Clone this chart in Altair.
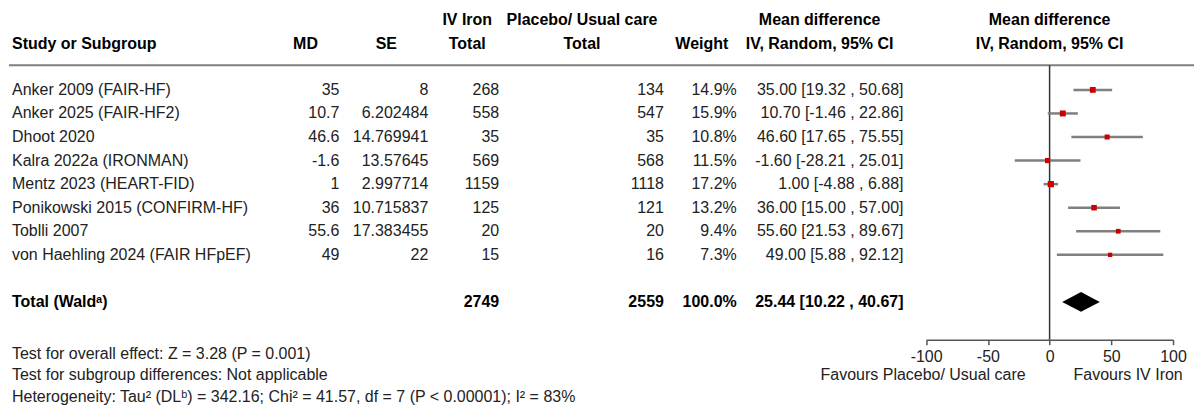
import altair as alt
import pandas as pd

# ------------------------------------------------------------------ data
studies = ["Anker 2009 (FAIR-HF)", "Anker 2025 (FAIR-HF2)", "Dhoot 2020",
           "Kalra 2022a (IRONMAN)", "Mentz 2023 (HEART-FID)",
           "Ponikowski 2015 (CONFIRM-HF)", "Toblli 2007",
           "von Haehling 2024 (FAIR HFpEF)"]
md = [35, 10.7, 46.6, -1.6, 1, 36, 55.6, 49]
se = [8, 6.202484, 14.769941, 13.57645, 2.997714, 10.715837, 17.383455, 22]
n_iron = [268, 558, 35, 569, 1159, 125, 20, 15]
n_ctrl = [134, 547, 35, 568, 1118, 121, 20, 16]
weight = [14.9, 15.9, 10.8, 11.5, 17.2, 13.2, 9.4, 7.3]
ci_lo = [19.32, -1.46, 17.65, -28.21, -4.88, 15.00, 21.53, 5.88]
ci_hi = [50.68, 22.86, 75.55, 25.01, 6.88, 57.00, 89.67, 92.12]

total_label = "Total (Wald\u1d43)"
total_n_iron = 2749
total_n_ctrl = 2559
total_weight = 100.0
total_md = 25.44
total_lo = 10.22
total_hi = 40.67

axis_ticks = [-100, -50, 0, 50, 100]
favours_left = "Favours Placebo/ Usual care"
favours_right = "Favours IV Iron"

header_top = {"n_iron": "IV Iron", "n_ctrl": "Placebo/ Usual care",
              "ci": "Mean difference"}
header_bottom = {"md": "MD", "se": "SE", "n_iron": "Total", "n_ctrl": "Total",
                 "weight": "Weight", "ci": "IV, Random, 95% CI"}
header_study = "Study or Subgroup"
forest_header = ["Mean difference", "IV, Random, 95% CI"]

footer_lines = [
    "Test for overall effect: Z = 3.28 (P = 0.001)",
    "Test for subgroup differences: Not applicable",
    "Heterogeneity: Tau\u00b2 (DL\u1d47) = 342.16; Chi\u00b2 = 41.57, df = 7 (P < 0.00001); I\u00b2 = 83%",
]

# ------------------------------------------------------------------ layout / style
W = 1187
PLOT_H = 332
ROW_PX = 23.6
FIRST_ROW_Y = 81.7
Y0 = -FIRST_ROW_Y / ROW_PX
Y1 = Y0 + PLOT_H / ROW_PX
ROW_HEAD1, ROW_HEAD2, ROW_LINE = -2.95, -1.95, -1.05
ROW_TOTAL = 9
ROW_FOOT = [11.2, 12.12, 13.05]
ROW_FAVOURS = 12.1
DIAMOND_HALF = 0.42

# forest axis occupies this pixel span of the plot area
FOREST_RANGE = [918.7, 1166.0]
_K = (FOREST_RANGE[1] - FOREST_RANGE[0]) / (axis_ticks[-1] - axis_ticks[0])


def px_unit(px):
    """pixel column position -> units of the shared x scale"""
    return axis_ticks[0] + (px - FOREST_RANGE[0]) / _K


STUDY_LEFT = px_unit(3)
COL_RIGHT = {k: px_unit(v) for k, v in
             {"md": 331, "se": 420, "n_iron": 491, "n_ctrl": 656,
              "weight": 729, "ci": 896}.items()}
HEAD_CENTER = {k: px_unit(v) for k, v in
               {"md": 297, "se": 378, "n_iron": 459, "n_ctrl": 574,
                "weight": 694, "ci": 812}.items()}
LINE_X = [px_unit(0), px_unit(W)]

FONT = "Liberation Sans"
FS = 16
TXT = "#222222"
BOLD = "#000000"
GREY = "#7f7f7f"
RED = "#cc0000"


def pos_expr(d, default=0):
    expr = str(default)
    for k, v in reversed(list(d.items())):
        expr = f"datum.col === '{k}' ? {v:.4f} : ({expr})"
    return expr


YS = alt.Scale(domain=[Y0, Y1], range=[0, PLOT_H], nice=False, zero=False)
XS = alt.Scale(domain=[axis_ticks[0], axis_ticks[-1]], range=FOREST_RANGE,
               nice=False, zero=False)

FX_AXIS = alt.Axis(values=axis_ticks, title=None, grid=False, orient="bottom",
                   domainColor="#555555", domainWidth=1.5,
                   tickColor="#555555", tickWidth=1.5, tickSize=5,
                   labelFont=FONT, labelFontSize=FS, labelColor=TXT,
                   labelPadding=4, labelExpr="'' + datum.value",
                   labelFlush=False, labelOverlap=False)

# ------------------------------------------------------------------ tables
body = []
for i in range(len(studies)):
    body += [
        {"row": i, "col": "md", "t": str(md[i])},
        {"row": i, "col": "se", "t": str(se[i])},
        {"row": i, "col": "n_iron", "t": str(n_iron[i])},
        {"row": i, "col": "n_ctrl", "t": str(n_ctrl[i])},
        {"row": i, "col": "weight", "t": f"{weight[i]:.1f}%"},
        {"row": i, "col": "ci", "t": f"{md[i]:.2f} [{ci_lo[i]:.2f} , {ci_hi[i]:.2f}]"},
    ]
body_df = pd.DataFrame(body)

total_df = pd.DataFrame([
    {"row": ROW_TOTAL, "col": "n_iron", "t": str(total_n_iron)},
    {"row": ROW_TOTAL, "col": "n_ctrl", "t": str(total_n_ctrl)},
    {"row": ROW_TOTAL, "col": "weight", "t": f"{total_weight:.1f}%"},
    {"row": ROW_TOTAL, "col": "ci", "t": f"{total_md:.2f} [{total_lo:.2f} , {total_hi:.2f}]"},
])

left_df = pd.DataFrame(
    [{"row": i, "t": s} for i, s in enumerate(studies)]
    + [{"row": r, "t": s} for r, s in zip(ROW_FOOT, footer_lines)]
)
left_bold_df = pd.DataFrame([
    {"row": ROW_TOTAL, "t": total_label},
    {"row": ROW_HEAD2, "t": header_study},
])

head_df = pd.DataFrame(
    [{"row": ROW_HEAD1, "col": k, "t": v} for k, v in header_top.items()]
    + [{"row": ROW_HEAD2, "col": k, "t": v} for k, v in header_bottom.items()]
)

y_enc = alt.Y("row:Q", scale=YS, axis=None)


def xq(field):
    return alt.X(field, type="quantitative", scale=XS, axis=FX_AXIS)


txt = dict(fontSize=FS, font=FONT, baseline="middle")

body_layer = alt.Chart(body_df).mark_text(color=TXT, align="right", **txt).transform_calculate(
    px=pos_expr(COL_RIGHT)).encode(x=xq("px"), y=y_enc, text="t:N")

total_layer = alt.Chart(total_df).mark_text(
    color=BOLD, fontWeight="bold", align="right", **txt).transform_calculate(
    px=pos_expr(COL_RIGHT)).encode(x=xq("px"), y=y_enc, text="t:N")

left_layer = alt.Chart(left_df).mark_text(color=TXT, align="left", **txt).transform_calculate(
    px=f"{STUDY_LEFT:.4f}").encode(x=xq("px"), y=y_enc, text="t:N")

left_bold_layer = alt.Chart(left_bold_df).mark_text(
    color=BOLD, fontWeight="bold", align="left", **txt).transform_calculate(
    px=f"{STUDY_LEFT:.4f}").encode(x=xq("px"), y=y_enc, text="t:N")

head_layer = alt.Chart(head_df).mark_text(
    color=BOLD, fontWeight="bold", align="center", **txt).transform_calculate(
    px=pos_expr(HEAD_CENTER)).encode(x=xq("px"), y=y_enc, text="t:N")

line_df = pd.DataFrame({"x": [LINE_X[0]], "x2": [LINE_X[1]], "row": [ROW_LINE]})
line_layer = alt.Chart(line_df).mark_rule(color=GREY, strokeWidth=2).encode(
    x=xq("x"), x2="x2:Q", y=y_enc)

# ------------------------------------------------------------------ forest
study_df = pd.DataFrame({"row": list(range(len(studies))), "md": md,
                         "lo": ci_lo, "hi": ci_hi, "weight": weight})

zero_df = pd.DataFrame({"x": [0], "row": [ROW_LINE], "row2": [Y1]})
zero_layer = alt.Chart(zero_df).mark_rule(color="#333333", strokeWidth=1.5).encode(
    x=xq("x"), y=y_enc, y2="row2:Q")

ci_layer = alt.Chart(study_df).mark_rule(color=GREY, strokeWidth=2.5).encode(
    x=xq("lo"), x2="hi:Q", y=y_enc)

sq_layer = alt.Chart(study_df).mark_square(color=RED, opacity=1).encode(
    x=xq("md"), y=y_enc,
    size=alt.Size("weight:Q", scale=alt.Scale(domain=[7, 18], range=[18, 40]),
                  legend=None))

diamond_df = pd.DataFrame({
    "x": [total_lo, total_md, total_hi],
    "row": [ROW_TOTAL, ROW_TOTAL - DIAMOND_HALF, ROW_TOTAL],
    "row2": [ROW_TOTAL, ROW_TOTAL + DIAMOND_HALF, ROW_TOTAL],
})
diamond_layer = alt.Chart(diamond_df).mark_area(color="#000000", opacity=1).encode(
    x=xq("x"), y=y_enc, y2="row2:Q")

fhead_df = pd.DataFrame({"x": [0, 0], "row": [ROW_HEAD1, ROW_HEAD2], "t": forest_header})
fhead_layer = alt.Chart(fhead_df).mark_text(
    color=BOLD, fontWeight="bold", align="center", **txt).encode(
    x=xq("x"), y=y_enc, text="t:N")

fav_df = pd.DataFrame({"x": [0], "row": [ROW_FAVOURS],
                       "l": [favours_left], "r": [favours_right]})
fav_l = alt.Chart(fav_df).mark_text(color=TXT, align="right", dx=-24, **txt).encode(
    x=xq("x"), y=y_enc, text="l:N")
fav_r = alt.Chart(fav_df).mark_text(color=TXT, align="left", dx=24, **txt).encode(
    x=xq("x"), y=y_enc, text="r:N")

chart = alt.layer(
    line_layer, zero_layer, ci_layer, sq_layer, diamond_layer,
    body_layer, total_layer, left_layer, left_bold_layer, head_layer,
    fhead_layer, fav_l, fav_r,
).properties(width=W, height=PLOT_H, padding=0).configure_view(strokeWidth=0)

chart.save("out.html", embed_options={"renderer": "svg", "actions": False})
